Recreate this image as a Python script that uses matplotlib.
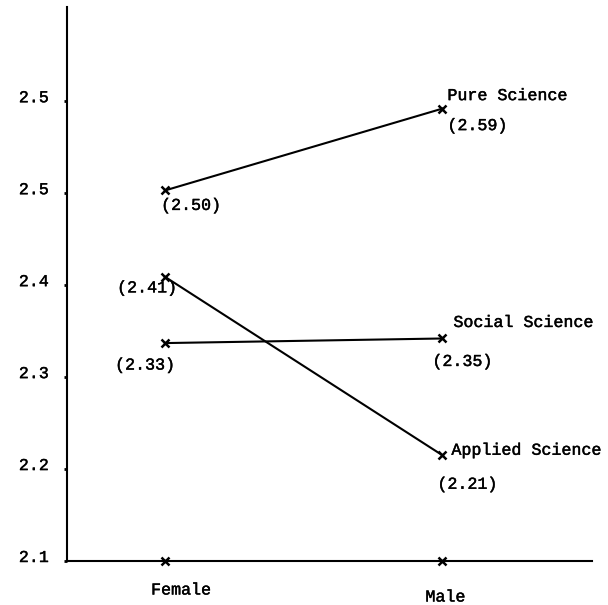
import matplotlib.pyplot as plt
import matplotlib.patheffects as pe
from matplotlib.transforms import ScaledTranslation

# dados do grafico (media por sexo e area)
grupos = ['Female', 'Male']
pure = [2.503, 2.592]
social = [2.337, 2.342]
applied = [2.409, 2.215]
# valores impressos ao lado dos pontos
txt_pure = ['(2.50)', '(2.59)']
txt_social = ['(2.33)', '(2.35)']
txt_applied = ['(2.41)', '(2.21)']
rotulos_y = ['2.1', '2.2', '2.3', '2.4', '2.5', '2.5']
posicoes_y = [2.1, 2.2, 2.3, 2.4, 2.5, 2.6]

plt.rcParams['font.family'] = ['Liberation Mono', 'DejaVu Sans Mono']
tinta = [pe.withStroke(linewidth=0.3, foreground='black')]

fig = plt.figure(figsize=(6.08, 6.05), dpi=100)
ax = fig.add_axes([0.110, 0.0727, 0.864, 0.915])

x = [0, 1]
for serie in (pure, social, applied):
    ax.plot(x, serie, color='black', lw=1.5, marker='x', ms=6, mew=1.8)

# marcas no eixo x
ax.plot(x, [2.1, 2.1], ls='none', marker='x', ms=6, mew=1.8, color='black', clip_on=False)

ax.set_xlim(-0.354, 1.54)
ax.set_ylim(2.1, 2.702)
ax.spines['top'].set_visible(False)
ax.spines['right'].set_visible(False)
ax.spines['left'].set_linewidth(1.5)
ax.spines['bottom'].set_linewidth(1.5)

ax.set_yticks(posicoes_y)
ax.set_yticklabels(rotulos_y, fontsize=12)
ax.tick_params(axis='y', length=2, width=2, pad=11)
ax.set_xticks([])
for lbl in ax.get_yticklabels():
    lbl.set_path_effects(tinta)
    lbl.set_transform(lbl.get_transform() + ScaledTranslation(0, 0.05, fig.dpi_scale_trans))

fs = 12
op = 'offset pixels'
def texto(s, xy, dx, dy, ha='left'):
    ax.annotate(s, xy, xytext=(dx, dy), textcoords=op, fontsize=fs, va='center', ha=ha,
                annotation_clip=False, path_effects=tinta)

# rotulos das areas
texto('Pure Science', (1, pure[1]), 5, 13)
texto('Social Science', (1, social[1]), 11, 16)
texto('Applied Science', (1, applied[1]), 9, 5)

# valores
texto(txt_pure[0], (0, pure[0]), -4, -15)
texto(txt_applied[0], (0, applied[0]), -18, -11, ha='center')
texto(txt_social[0], (0, social[0]), -20, -22, ha='center')
texto(txt_pure[1], (1, pure[1]), 5, -17)
texto(txt_social[1], (1, social[1]), -10, -23)
texto(txt_applied[1], (1, applied[1]), -5, -29)

# nomes dos grupos abaixo do eixo
texto(grupos[0], (0, 2.1), 16, -29, ha='center')
texto(grupos[1], (1, 2.1), 3, -36, ha='center')

fig.savefig('out.png', dpi=100)
